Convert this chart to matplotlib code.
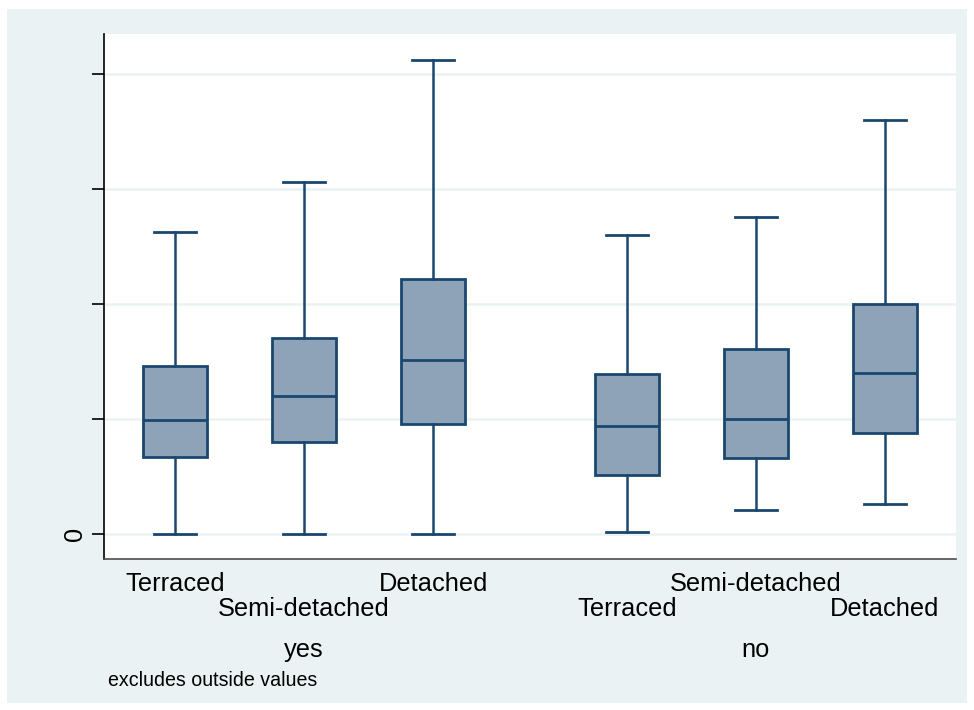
import matplotlib.pyplot as plt
import matplotlib.transforms as mtransforms
from matplotlib.patches import Rectangle

plt.rcParams['font.family'] = ['Liberation Sans', 'DejaVu Sans']

# box plot summaries by house type, split by the yes/no group
groups = ['yes', 'no']
types = ['Terraced', 'Semi-detached', 'Detached']
whislo = [0.0, 0.0, 0.0, 0.017, 0.206, 0.258]
q1 = [0.674, 0.796, 0.957, 0.513, 0.661, 0.876]
med = [0.991, 1.196, 1.517, 0.943, 1.000, 1.397]
q3 = [1.461, 1.704, 2.217, 1.389, 1.606, 2.000]
whishi = [2.626, 3.061, 4.126, 2.603, 2.759, 3.603]
yticks = [0, 1, 2, 3, 4]

navy = '#1a476f'
fill = '#8ea3b8'
grid_col = '#eaf2f3'

fig = plt.figure(figsize=(9.74, 7.10), dpi=100)
fig.patch.set_facecolor('white')
fig.patches.append(Rectangle((7 / 974, 1 - 703 / 710), 960 / 974, 694 / 710,
                             transform=fig.transFigure, facecolor=grid_col,
                             edgecolor='none', zorder=-10))

ax = fig.add_axes([104 / 974, 1 - 559 / 710, 852 / 974, 525 / 710])
ax.set_facecolor('white')

positions = [0, 1, 2, 3.5, 4.5, 5.5]
stats = []
for i in range(6):
    stats.append({'whislo': whislo[i], 'q1': q1[i], 'med': med[i],
                  'q3': q3[i], 'whishi': whishi[i], 'fliers': []})

ax.bxp(stats, positions=positions, widths=0.5, capwidths=0.33,
       patch_artist=True, showfliers=False,
       boxprops=dict(facecolor=fill, edgecolor=navy, linewidth=2.0),
       medianprops=dict(color=navy, linewidth=2.0),
       whiskerprops=dict(color=navy, linewidth=1.8),
       capprops=dict(color=navy, linewidth=2.0), zorder=3)

ax.set_xlim(-0.55, 6.05)
ax.set_ylim(-0.217, 4.348)
ax.set_yticks(yticks)
ax.set_yticklabels(['0', '', '', '', ''], rotation=90, va='center', fontsize=18.3)
ax.tick_params(axis='y', length=9, width=1.2, color='black', pad=3)
ax.set_xticks([])
for y in yticks:
    ax.axhline(y, color=grid_col, linewidth=1.8, zorder=1)

for side in ['top', 'right']:
    ax.spines[side].set_visible(False)
ax.spines['left'].set_color('black')
ax.spines['left'].set_linewidth(1.2)
ax.spines['bottom'].set_color('#4d4d4d')
ax.spines['bottom'].set_linewidth(1.2)

# staggered category labels under the boxes
trans = mtransforms.blended_transform_factory(ax.transData, fig.transFigure)
rows = [584, 609, 584, 609, 584, 609]
for i in range(6):
    ax.text(positions[i], 1 - rows[i] / 710, types[i % 3], transform=trans,
            ha='center', va='center', fontsize=18.3)

ax.text(1, 1 - 650 / 710, groups[0], transform=trans, ha='center', va='center', fontsize=18.3)
ax.text(4.5, 1 - 650 / 710, groups[1], transform=trans, ha='center', va='center', fontsize=18.3)

fig.text(108 / 974, 1 - 680 / 710, 'excludes outside values', ha='left', va='center',
         fontsize=14.1)

fig.savefig('out.png', dpi=100)
